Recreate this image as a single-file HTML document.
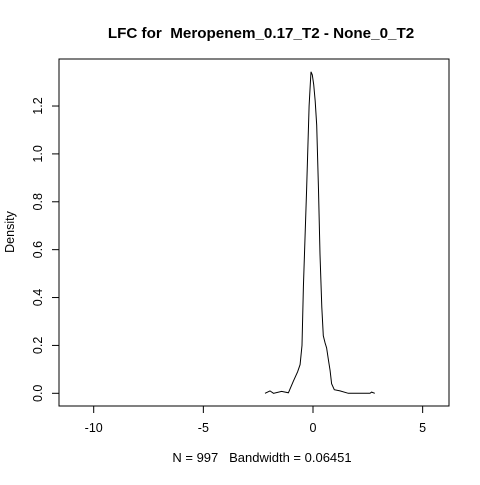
<!DOCTYPE html>
<html><head><style>body{margin:0;background:#fff}svg text{font-family:"Liberation Sans",sans-serif;white-space:pre}</style></head>
<body>
<svg id="chart" width="480" height="480">
<text x="261" y="38" font-size="15.2" font-weight="bold" text-anchor="middle" xml:space="preserve">LFC for  Meropenem_0.17_T2 - None_0_T2</text>
<rect x="59" y="59" width="390" height="347" fill="none" stroke="#000"/>
<text x="262" y="462" font-size="13" text-anchor="middle" xml:space="preserve">N = 997   Bandwidth = 0.06451</text>
<text transform="translate(14,232) rotate(-90)" font-size="12.5" text-anchor="middle">Density</text>
<g id="axes"></g>
<path id="curve" fill="none" stroke="#000" stroke-width="1"/>
</svg>
<script>
const xTicks=[-10,-5,0,5];
const yTicks=[0,0.2,0.4,0.6,0.8,1.0,1.2];
const yTickLabels=["0.0","0.2","0.4","0.6","0.8","1.0","1.2"];
const xs=[-2.19,-1.96,-1.80,-1.43,-1.12,-0.90,-0.70,-0.59,-0.50,-0.44,-0.29,-0.18,-0.12,-0.09,-0.03,0.03,0.10,0.17,0.25,0.32,0.40,0.47,0.55,0.62,0.70,0.78,0.85,0.97,1.23,1.61,2.60,2.67,2.82];
const ds=[0,0.01,0,0.008,0.002,0.05,0.09,0.12,0.2,0.445,0.85,1.2,1.3,1.343,1.33,1.29,1.22,1.12,0.85,0.58,0.36,0.24,0.21,0.19,0.14,0.095,0.04,0.015,0.01,0,0,0.005,0];
const X=v=>313+v*21.93, Y=v=>393.3-v*239.4;
const ns="http://www.w3.org/2000/svg", g=document.getElementById('axes');
function el(t,a){const e=document.createElementNS(ns,t);for(const k in a)e.setAttribute(k,a[k]);g.appendChild(e);return e;}
el('line',{x1:X(-10),x2:X(5),y1:406,y2:406,stroke:'#000'});
xTicks.forEach(t=>{
 const l=el('line',{x1:X(t),x2:X(t),y1:406,y2:413,stroke:'#000'});
 
 
 const tx=el('text',{x:X(t),y:432,'font-size':12.5,'text-anchor':'middle'});tx.textContent=t;
 
 
});
el('line',{x1:59,x2:59,y1:Y(0),y2:Y(1.2),stroke:'#000'});
yTicks.forEach((t,i)=>{
 const l=el('line',{x1:52,x2:59,y1:Y(t),y2:Y(t),stroke:'#000'});
 
 
 const tx=el('text',{transform:`translate(42,${Y(t)}) rotate(-90)`,'font-size':12.5,'text-anchor':'middle'});tx.textContent=yTickLabels[i];
 
 
});
document.getElementById('curve').setAttribute('d',xs.map((x,i)=>(i?'L':'M')+X(x).toFixed(1)+','+Y(ds[i]).toFixed(1)).join(''));
</script>
</body></html>
